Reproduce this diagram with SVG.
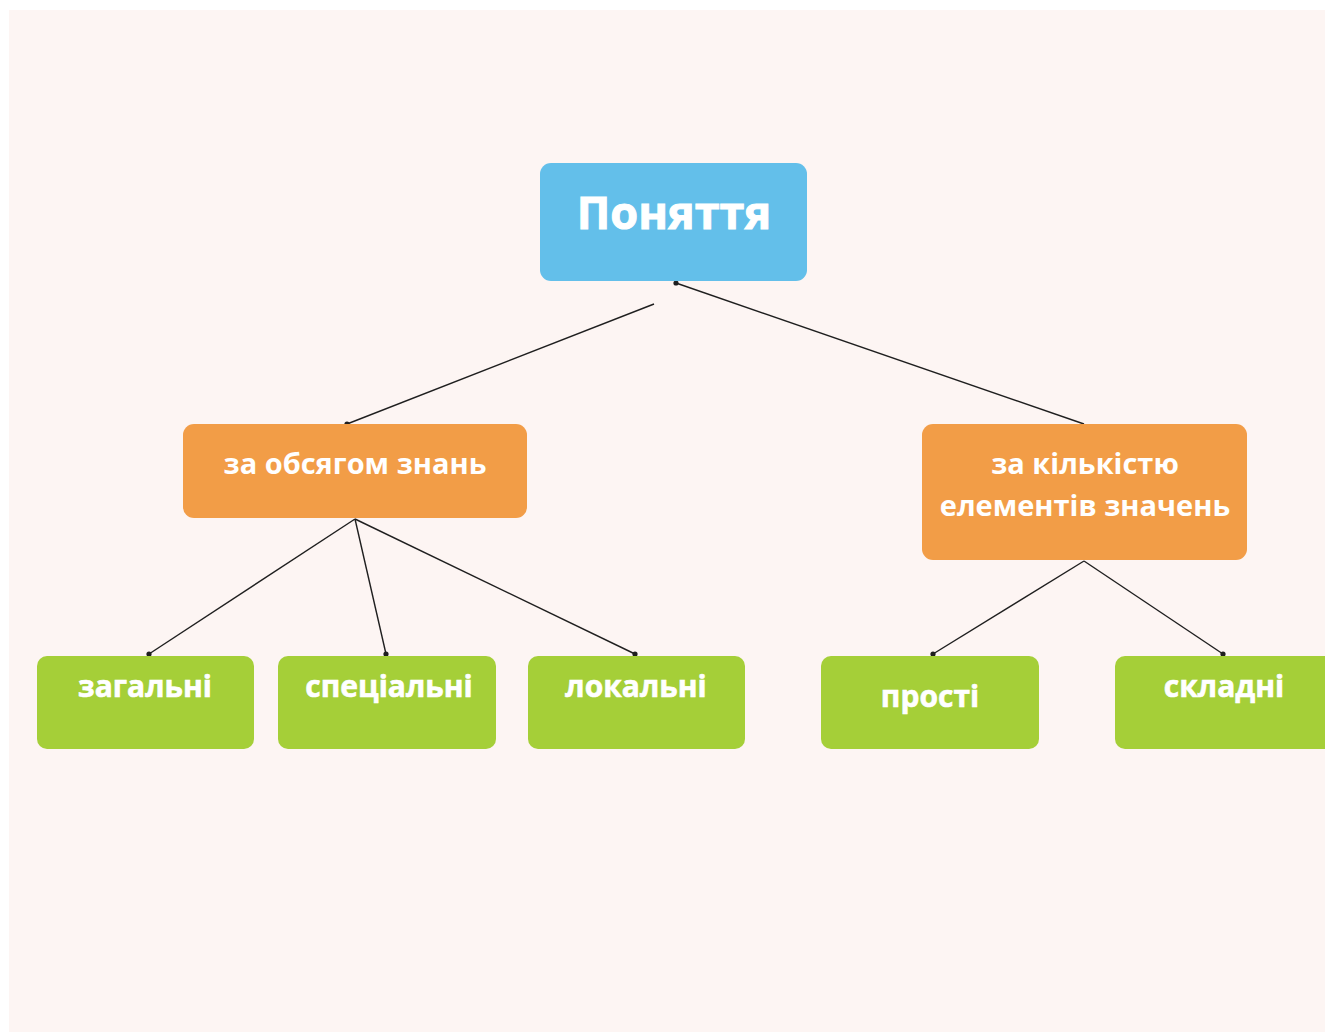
<svg xmlns="http://www.w3.org/2000/svg" width="1325" height="1032" viewBox="0 0 1325 1032">
<style>
.t{fill:#ffffff;font-family:"Open Sans","Noto Sans","Liberation Sans",sans-serif;font-weight:bold;text-anchor:middle}
.g{font-size:30px;stroke:#ffffff;stroke-width:0.6}
.o{font-size:29px}
.blue{fill:#63bfea}
.orange{fill:#f29d47}
.green{fill:#a5cf38}
.ln{stroke:#1f1f1f;stroke-width:1.4;fill:none}
.dot{fill:#1f1f1f}
</style>
<rect x="0" y="0" width="1325" height="1032" fill="#ffffff"/>
<rect x="9" y="10" width="1316" height="1022" fill="#fdf5f3"/>
<g id="connectors">
<line class="ln" x1="676" y1="283" x2="1084" y2="424"/>
<line class="ln" x1="654" y1="304" x2="347" y2="424"/>
<line class="ln" x1="355" y1="519" x2="149" y2="654"/>
<line class="ln" x1="355" y1="519" x2="386" y2="654"/>
<line class="ln" x1="355" y1="519" x2="635" y2="654"/>
<line class="ln" x1="1084" y1="561" x2="933" y2="654"/>
<line class="ln" x1="1084" y1="561" x2="1223" y2="654"/>
<circle class="dot" cx="676" cy="283" r="2.6"/>
<circle class="dot" cx="347" cy="424" r="2.6"/>
<circle class="dot" cx="149" cy="654" r="2.6"/>
<circle class="dot" cx="386" cy="654" r="2.6"/>
<circle class="dot" cx="635" cy="654" r="2.6"/>
<circle class="dot" cx="933" cy="654" r="2.6"/>
<circle class="dot" cx="1223" cy="654" r="2.6"/>
</g>
<g id="node-ponyattya">
<rect class="blue" x="540" y="163" width="267" height="118" rx="11"/>
<text class="t" x="674" y="229" font-size="45" stroke="#ffffff" stroke-width="1">Поняття</text>
</g>
<g id="node-obsyag">
<rect class="orange" x="183" y="424" width="344" height="94" rx="11"/>
<text class="t o" x="355" y="474">за обсягом знань</text>
</g>
<g id="node-kilkist">
<rect class="orange" x="922" y="424" width="325" height="136" rx="11"/>
<text class="t o" x="1085" y="474">за кількістю</text>
<text class="t o" x="1085" y="516">елементів значень</text>
</g>
<g id="node-zagalni">
<rect class="green" x="37" y="656" width="217" height="93" rx="10"/>
<text class="t g" x="145" y="697">загальні</text>
</g>
<g id="node-spetsialni">
<rect class="green" x="278" y="656" width="218" height="93" rx="10"/>
<text class="t g" x="389" y="697">спеціальні</text>
</g>
<g id="node-lokalni">
<rect class="green" x="528" y="656" width="217" height="93" rx="10"/>
<text class="t g" x="636" y="697">локальні</text>
</g>
<g id="node-prosti">
<rect class="green" x="821" y="656" width="218" height="93" rx="10"/>
<text class="t g" x="930" y="707">прості</text>
</g>
<g id="node-skladni">
<rect class="green" x="1115" y="656" width="222" height="93" rx="10"/>
<text class="t g" x="1224" y="697">складні</text>
</g>
</svg>
